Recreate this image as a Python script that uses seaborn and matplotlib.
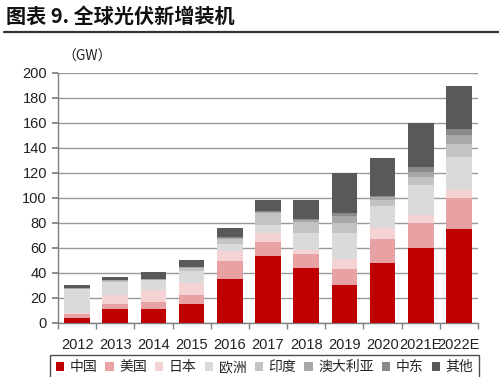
import numpy as np
import pandas as pd
import matplotlib
matplotlib.use("Agg")
import matplotlib.pyplot as plt
import seaborn as sns
from matplotlib.patches import Patch
from matplotlib.lines import Line2D

years = ["2012", "2013", "2014", "2015", "2016", "2017", "2018", "2019", "2020", "2021E", "2022E"]
regions = ["中国", "美国", "日本", "欧洲", "印度", "澳大利亚", "中东", "其他"]
china     = [3.5, 10.5, 10.5, 15.0, 34.5, 53.0, 44.0, 30.0, 48.0, 60.0, 75.0]
usa       = [3.2, 4.5, 6.2, 7.3, 14.7, 11.8, 10.5, 13.0, 19.0, 20.0, 25.0]
japan     = [1.0, 7.0, 9.5, 9.5, 8.0, 7.0, 3.5, 7.7, 8.5, 6.0, 6.0]
europe    = [19.0, 10.5, 7.5, 9.5, 5.5, 6.5, 14.0, 20.8, 17.5, 24.0, 26.7]
india     = [0.5, 1.0, 0.7, 2.0, 4.3, 9.5, 8.7, 8.0, 4.8, 6.7, 10.6]
australia = [0.3, 0.6, 0.5, 0.8, 0.8, 1.0, 1.5, 5.4, 2.5, 4.0, 6.7]
mideast   = [0.2, 0.2, 0.2, 0.2, 0.3, 0.5, 0.6, 2.6, 1.2, 4.0, 4.8]
others    = [2.5, 2.3, 5.0, 5.5, 7.3, 8.5, 15.2, 32.0, 30.0, 35.0, 34.7]
series = [china, usa, japan, europe, india, australia, mideast, others]
colors = ["#c00000", "#e8a2a3", "#f5d3d5", "#dadada", "#c3c3c3", "#a8a8a8", "#8a8a8a", "#595959"]

sns.set_theme(style="white")
plt.rcParams["font.family"] = ["Noto Sans CJK SC", "DejaVu Sans"]

fig = plt.figure(figsize=(4.99, 3.77), dpi=100)
W, H = 499, 377
ax = fig.add_axes([58 / W, 1 - 322.5 / H, (478 - 58) / W, (322.5 - 72.7) / H])

cum = np.zeros(len(years))
cums = []
for s in series:
    cum = cum + np.array(s)
    cums.append(cum.copy())

for i in reversed(range(len(series))):
    d = pd.DataFrame({"year": years, "val": cums[i]})
    sns.barplot(data=d, x="year", y="val", color=colors[i], saturation=1,
                width=0.67, ax=ax, zorder=3, edgecolor="none", linewidth=0)

ax.set_ylim(0, 200)
ax.set_xlim(-0.5, len(years) - 0.5)
ax.set_yticks(range(0, 201, 20))
ax.yaxis.grid(True, color="#999999", linewidth=1.0, zorder=0)
ax.set_axisbelow(True)
ax.set_xlabel("")
ax.set_ylabel("")
for sp in ["top", "right"]:
    ax.spines[sp].set_visible(False)
ax.spines["left"].set_color("#7f7f7f")
ax.spines["bottom"].set_color("#7f7f7f")
ax.spines["left"].set_linewidth(1.0)
ax.spines["bottom"].set_linewidth(1.0)
ax.tick_params(axis="y", which="both", left=True, length=4, color="#7f7f7f",
               labelsize=10.5, labelcolor="#222222", pad=4)
ax.tick_params(axis="x", which="major", bottom=False, labelsize=10.5,
               labelcolor="#222222", pad=5)
ax.set_xticks(np.arange(-0.5, len(years), 1), minor=True)
ax.tick_params(axis="x", which="minor", bottom=True, length=4, color="#7f7f7f")
for lab in ax.get_xticklabels() + ax.get_yticklabels():
    lab.set_family(["Liberation Sans", "DejaVu Sans"])

fig.text(62 / W, 1 - 57 / H, "（GW）", fontsize=10, color="#222222",
         ha="left", va="center", family=["Noto Sans CJK SC", "DejaVu Sans"])

fig.text(6 / W, 1 - 16 / H, "图表 9. 全球光伏新增装机", fontsize=14.5, fontweight="bold",
         color="#111111", ha="left", va="center")
fig.add_artist(Line2D([4 / W, 499 / W], [1 - 32 / H, 1 - 32 / H],
                      color="#333333", linewidth=1.6, transform=fig.transFigure))

handles = [Patch(facecolor=c, edgecolor="none") for c in colors]
leg = fig.legend(handles, regions, loc="upper left",
                 bbox_to_anchor=(50 / W, 1 - 355 / H, (479 - 50) / W, 0.001),
                 mode="expand", ncol=8, frameon=True, fontsize=10,
                 handlelength=0.6, handleheight=0.6, handletextpad=0.4,
                 columnspacing=0.5, borderpad=0.4, borderaxespad=0)
leg.get_frame().set_edgecolor("#222222")
leg.get_frame().set_linewidth(1.0)
leg.get_frame().set_boxstyle("square", pad=0)

fig.savefig("out.png", dpi=100, facecolor="white")
